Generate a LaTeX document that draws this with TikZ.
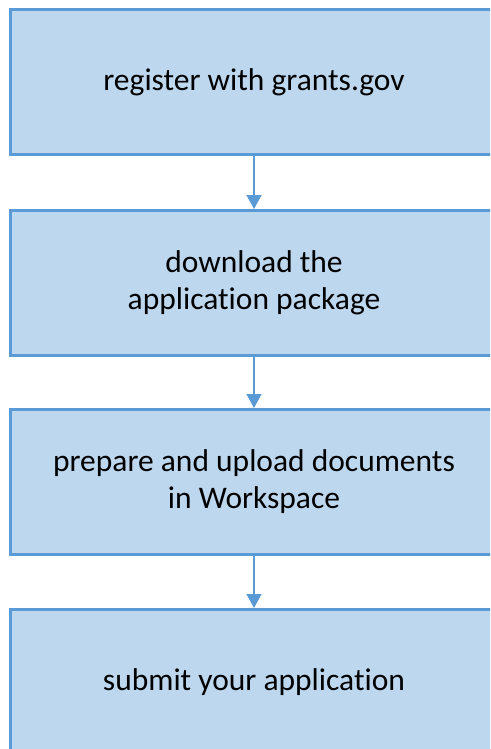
\documentclass[tikz,border=0pt]{standalone}
\usepackage{fontspec}
\setmainfont{Carlito}[Ligatures=NoCommon]
\usetikzlibrary{arrows.meta}
\definecolor{stepfill}{HTML}{BDD7EE}
\definecolor{stepline}{HTML}{5B9BD5}
\begin{document}
\begin{tikzpicture}[x=1pt,y=-1pt,
    stepbox/.style={draw=stepline, fill=stepfill, line width=3pt,
        minimum width=488pt, minimum height=145pt, align=center,
        font=\fontsize{31.5}{37}\selectfont, inner sep=0pt},
    flow/.style={draw=stepline, line width=1.5pt, -{Triangle[width=15pt,length=14pt]}}]
    \clip (0,0) rectangle (490,749);
    \fill[white] (0,0) rectangle (490,749);
    \node[stepbox] (register) at (254,82) {register with grants.gov};
    \node[stepbox] (download) at (254,283) {download the\\application package};
    \node[stepbox] (prepare) at (254,482) {prepare and upload documents\\in Workspace};
    \node[stepbox] (submit) at (254,682) {submit your application};
    \draw[flow] (register) -- (download);
    \draw[flow] (download) -- (prepare);
    \draw[flow] (prepare) -- (submit);
\end{tikzpicture}
\end{document}
